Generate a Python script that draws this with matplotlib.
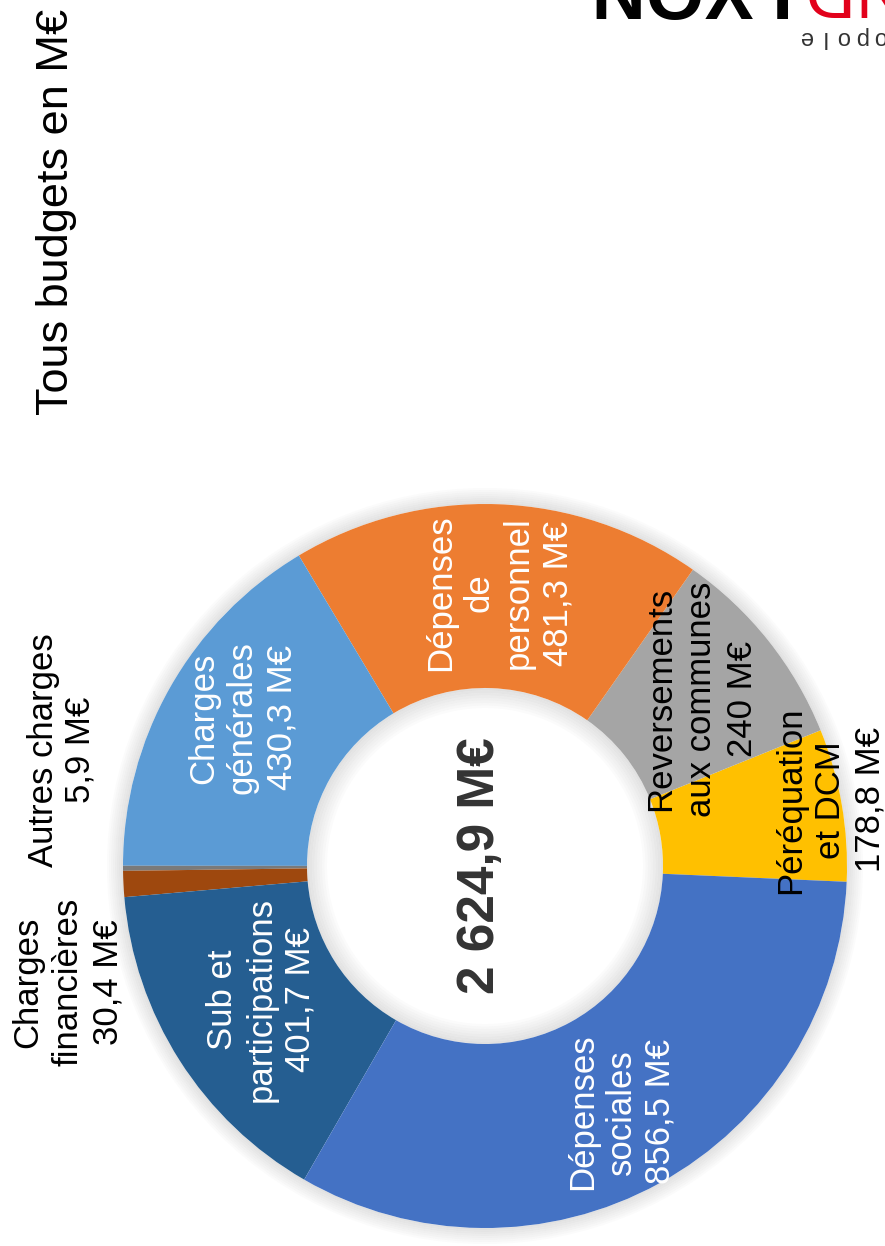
import matplotlib.pyplot as plt
from matplotlib.patches import Wedge

plt.rcParams['font.family'] = ['Liberation Sans', 'DejaVu Sans']

W, H = 885, 1246

# budget lines, in drawing order (counter-clockwise on the page)
labels = [
    ["Péréquation", "et DCM", "178,8 M€"],
    ["Reversements", "aux communes", "240 M€"],
    ["Dépenses", "de", "personnel", "481,3 M€"],
    ["Charges", "générales", "430,3 M€"],
    ["Autres charges", "5,9 M€"],
    ["Charges", "financières", "30,4 M€"],
    ["Sub et", "participations", "401,7 M€"],
    ["Dépenses", "sociales", "856,5 M€"],
]
values = [178.8, 240.0, 481.3, 430.3, 5.9, 30.4, 401.7, 856.5]
colors = ["#FFC000", "#A5A5A5", "#ED7D31", "#5B9BD5",
          "#7A7A7A", "#9E480E", "#255E91", "#4472C4"]
text_colors = ["black", "black", "white", "white",
               "black", "black", "white", "white"]
total_label = "2 624,9 M€"
title = "Tous budgets en M€"

# label placement: first baseline (px), line step, vertical centre (px)
label_pos = [
    (800, 40, 800),
    (670, 41, 699),
    (450, 39, 593),
    (213, 39, 718),
    (53, 37, 750),
    (37, 40, 982),
    (232, 39, 1000),
    (592, 39, 1112),
]

cx, cy = 485, 866
r_out, r_in = 362, 178

fig = plt.figure(figsize=(W / 100, H / 100), dpi=100)
ax = fig.add_axes([0, 0, 1, 1])

# soft grey halo around the ring
n = 8
for i in range(n):
    a = 0.5 * (1 - i / n)
    ax.add_patch(Wedge((cx, cy), r_out + 2 * (i + 1), 0, 360, width=2,
                       facecolor="#c4c4c4", edgecolor="none", alpha=a))
    ax.add_patch(Wedge((cx, cy), r_in - 2.5 * i, 0, 360, width=2.5,
                       facecolor="#c4c4c4", edgecolor="none", alpha=a))

ax.pie(values, colors=colors, startangle=2.5, counterclock=False,
       radius=r_out, center=(cx, cy),
       wedgeprops=dict(width=r_out - r_in, linewidth=0))

ax.set_xlim(0, W)
ax.set_ylim(H, 0)
ax.set_aspect("equal")
ax.axis("off")


def put_lines(lines, x0, step, yc, color, size=25, weight="normal"):
    for k, line in enumerate(lines):
        ax.text(x0 + k * step, yc, line, rotation=90, rotation_mode="anchor",
                ha="center", va="baseline", fontsize=size, color=color,
                fontweight=weight)


for lines, (x0, step, yc), tc in zip(labels, label_pos, text_colors):
    put_lines(lines, x0, step, yc, tc)

# total in the hole
ax.text(481, 866, total_label, rotation=90, ha="center", va="center",
        fontsize=37, fontweight="bold", color="#333333")

# title
ax.text(68, 212, title, rotation=90, rotation_mode="anchor",
        ha="center", va="baseline", fontsize=32.5, color="black")

# logo, upside down and cut by the top edge
ax.text(582, -34, "LYON", rotation=180, rotation_mode="anchor",
        ha="right", va="baseline", fontsize=54, fontweight="bold",
        color="black", clip_on=False)
ax.text(798, -32, "GRAND", rotation=180, rotation_mode="anchor",
        ha="right", va="baseline", fontsize=50, color="#E2001A",
        clip_on=False)
for k, ch in enumerate("métropole"[::-1]):
    ax.text(805 + 18.5 * k, 31, ch, rotation=180, rotation_mode="anchor",
            ha="center", va="baseline", fontsize=17, color="#333333")

fig.savefig("out.png", dpi=100)
